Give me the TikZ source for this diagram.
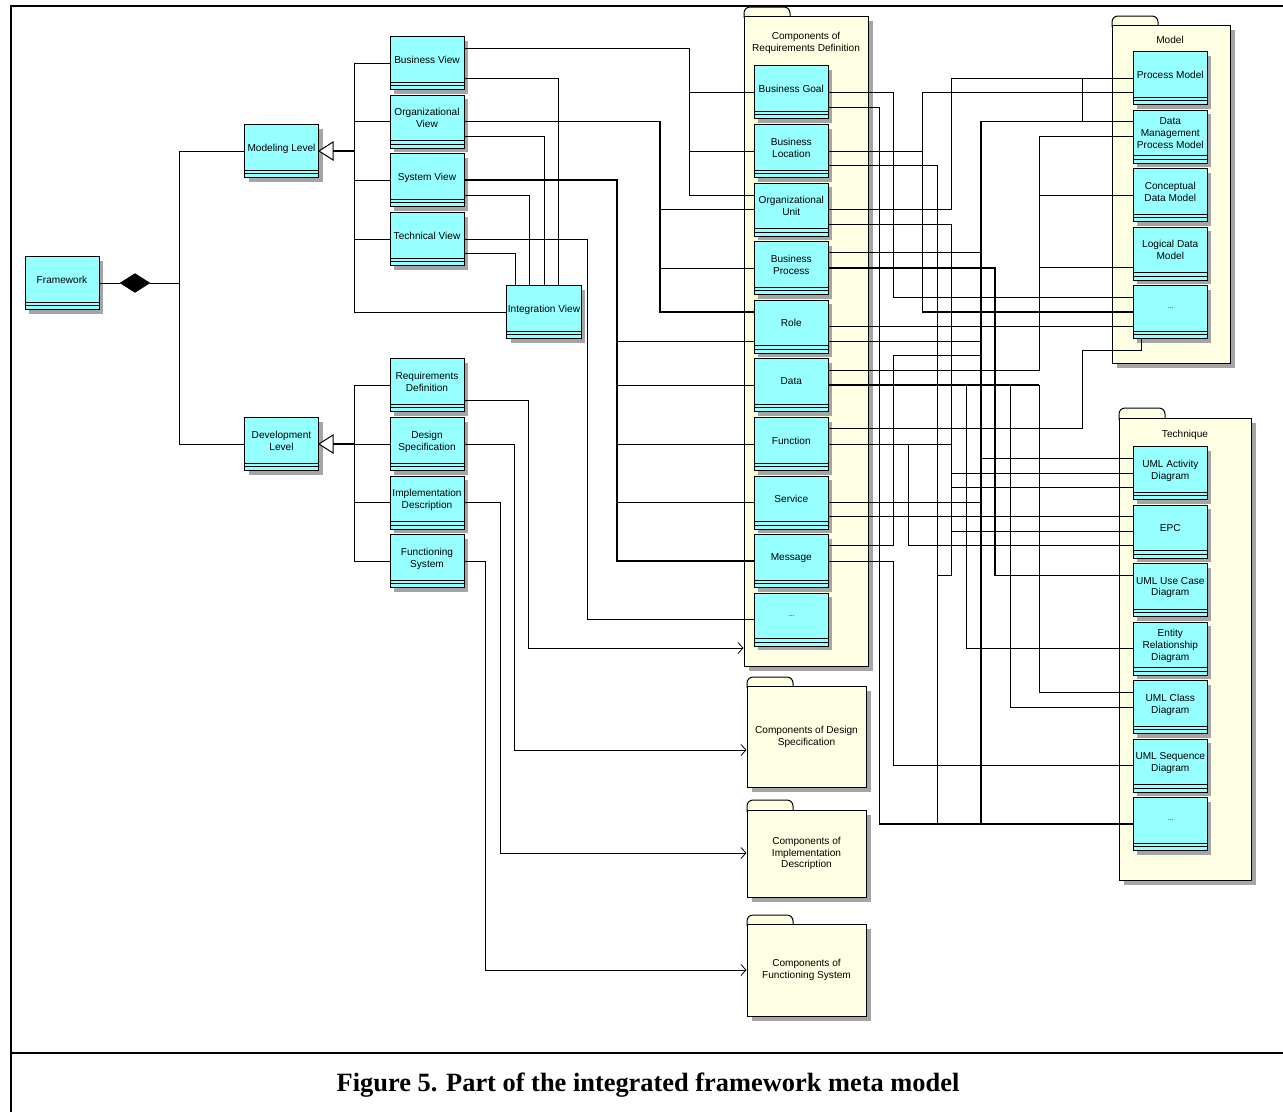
\documentclass[tikz,border=0pt]{standalone}
\usepackage{fontspec}
\setmainfont{Liberation Sans}
\newfontfamily\capfont{Liberation Serif}
\usetikzlibrary{shapes.geometric,shadows,arrows.meta}
\definecolor{boxcyan}{RGB}{150,255,255}
\definecolor{pkgfill}{RGB}{255,255,228}
\definecolor{shadowgray}{RGB}{165,165,165}
\tikzset{
  boxfont/.style={font=\fontsize{10.1}{11.8}\selectfont},
  cls/.style={draw=black, line width=1pt, fill=boxcyan, minimum width=74pt, minimum height=53pt,
    inner sep=1pt, align=center, boxfont, text depth=7pt,
    drop shadow={shadow xshift=4pt, shadow yshift=-4pt, fill=shadowgray, opacity=1},
    path picture={\draw[line width=0.8pt]
      ([yshift=7.6pt]path picture bounding box.south west) -- ([yshift=7.6pt]path picture bounding box.south east)
      ([yshift=4pt]path picture bounding box.south west) -- ([yshift=4pt]path picture bounding box.south east);}},
  pkg/.style={draw=black, line width=1pt, fill=pkgfill, inner sep=1pt, align=center, boxfont,
    drop shadow={shadow xshift=5pt, shadow yshift=-5pt, fill=shadowgray, opacity=1}},
  pkgtab/.style={draw=black, line width=1pt, fill=pkgfill},
  title/.style={boxfont, align=center, inner sep=0pt},
  conn/.style={line width=0.8pt},
  heavy/.style={line width=1.2pt},
  dep/.style={line width=0.8pt, -{Straight Barb[length=5pt,width=11pt]}},
  frame/.style={line width=2pt},
  captext/.style={font=\capfont\bfseries\fontsize{26.4}{30}\selectfont},
}
\begin{document}
\begin{tikzpicture}[x=1pt,y=-1pt]
\useasboundingbox (0,0) rectangle (1283,1112);
% frame
\draw[frame] (10.5,1112) -- (10.5,6) -- (1283,6);
\draw[frame] (10.5,1053) -- (1283,1053);
\node[captext] (cap) at (648,1085) {Figure 5. Part of the integrated framework meta model};

% packages
\draw[pkgtab] (744,18) [rounded corners=6pt] -- (744,7) -- (790,7) -- (790,18);
\node[pkg, minimum width=124pt, minimum height=650pt] (reqpkg) at (806,341) {};
\node[title] (reqt) at (806,43) {Components of\\Requirements Definition};

\draw[pkgtab] (1112,27) [rounded corners=6pt] -- (1112,16) -- (1158,16) -- (1158,27);
\node[pkg, minimum width=118pt, minimum height=338pt] (modelpkg) at (1171,194) {};
\node[title] (mt) at (1170,40) {Model};

\draw[pkgtab] (1119,420) [rounded corners=6pt] -- (1119,408) -- (1165,408) -- (1165,420);
\node[pkg, minimum width=132pt, minimum height=462pt] (techpkg) at (1185,649) {};
\node[title] (tt) at (1185,435) {Technique};

\draw[pkgtab] (747,688) [rounded corners=6pt] -- (747,677) -- (793,677) -- (793,688);
\node[pkg, minimum width=119pt, minimum height=101pt] (dspkg) at (806.5,736.5) {Components of Design\\Specification};
\draw[pkgtab] (747,812) [rounded corners=6pt] -- (747,800) -- (793,800) -- (793,812);
\node[pkg, minimum width=119pt, minimum height=87pt] (idpkg) at (806.5,853.5) {Components of\\Implementation\\Description};
\draw[pkgtab] (747,926) [rounded corners=6pt] -- (747,915) -- (793,915) -- (793,926);
\node[pkg, minimum width=119pt, minimum height=92pt] (fspkg) at (806.5,970) {Components of\\Functioning System};

% left boxes
\node[cls] (fw) at (62,283) {Framework};
\node[cls] (ml) at (281.5,151) {Modeling Level};
\node[cls] (dl) at (281.5,444) {Development\\Level};
\node[cls] (bv) at (427,63) {Business View};
\node[cls] (ov) at (427,121.7) {Organizational\\View};
\node[cls] (sv) at (427,180) {System View};
\node[cls] (tv) at (427,239) {Technical View};
\node[cls] (iv) at (544,312) {Integration View};
\node[cls] (rd) at (427,385) {Requirements\\Definition};
\node[cls] (ds) at (427,444) {Design\\Specification};
\node[cls] (id) at (427,502.5) {Implementation\\Description};
\node[cls] (fs) at (427,561) {Functioning\\System};

% requirements components
\node[cls] (bg) at (791.3,92) {Business Goal};
\node[cls] (bl) at (791.3,151) {Business\\Location};
\node[cls] (ou) at (791.3,209.5) {Organizational\\Unit};
\node[cls] (bp) at (791.3,268) {Business\\Process};
\node[cls] (ro) at (791.3,326.5) {Role};
\node[cls] (da) at (791.3,385) {Data};
\node[cls] (fu) at (791.3,444) {Function};
\node[cls] (se) at (791.3,502.5) {Service};
\node[cls] (me) at (791.3,561) {Message};
\node[cls] (rdots) at (791.3,619.5) {\scriptsize ...};

% model
\node[cls] (pm) at (1170.3,78) {Process Model};
\node[cls] (dmpm) at (1170.3,136.5) {Data\\Management\\Process Model};
\node[cls] (cdm) at (1170.3,195) {Conceptual\\Data Model};
\node[cls] (ldm) at (1170.3,253.5) {Logical Data\\Model};
\node[cls] (mdots) at (1170.3,312) {\scriptsize ...};

% technique
\node[cls] (uad) at (1170.3,473) {UML Activity\\Diagram};
\node[cls] (epc) at (1170.3,531.5) {EPC};
\node[cls] (uucd) at (1170.3,590) {UML Use Case\\Diagram};
\node[cls] (erd) at (1170.3,648.5) {Entity\\Relationship\\Diagram};
\node[cls] (ucd) at (1170.3,707) {UML Class\\Diagram};
\node[cls] (usd) at (1170.3,765.5) {UML Sequence\\Diagram};
\node[cls] (tdots) at (1170.3,824) {\scriptsize ...};

% composition and generalizations
\node[diamond, draw=black, fill=black, minimum width=30pt, minimum height=19pt, inner sep=0pt] (dia) at (135,283) {};
\draw[conn] (fw.east) -- (dia.west);
\draw[conn] (dia.east) -- (179,283);
\draw[conn] (ml.west) -| (179,444) -- (dl.west);

\draw[line width=1pt, fill=white] (ml.east) -- ++(14,-9) -- ++(0,18) -- cycle;
\coordinate (mlb) at ([xshift=14pt]ml.east);
\draw[line width=1.8pt] (mlb) -- (354,151);
\draw[conn] (bv.west) -| (354,312) -- (iv.west);
\draw[conn] (ov.west) -- (ov.west -| 354,0);
\draw[conn] (sv.west) -- (sv.west -| 354,0);
\draw[conn] (tv.west) -- (tv.west -| 354,0);

\draw[line width=1pt, fill=white] (dl.east) -- ++(14,-9) -- ++(0,18) -- cycle;
\coordinate (dlb) at ([xshift=14pt]dl.east);
\draw[line width=1.8pt] (dlb) -- (354,444);
\draw[conn] (rd.west) -| (354,561) -- (fs.west);
\draw[conn] (ds.west) -- (ds.west -| 354,0);
\draw[conn] (id.west) -- (id.west -| 354,0);

% views to integration view
\draw[conn] (bv.east |- 0,78) -| (iv.north -| 558,0);
\draw[conn] (ov.east |- 0,136.7) -| (iv.north -| 544,0);
\draw[conn] (sv.east |- 0,195) -| (iv.north -| 529,0);
\draw[conn] (tv.east |- 0,253.5) -| (iv.north -| 515,0);

% views to requirements components
\draw[conn] (bv.east |- 0,48) -| (689,195) -- (ou.west |- 0,195);
\draw[conn] (689,92) -- (bg.west);
\draw[conn] (689,151) -- (bl.west);
\draw[heavy] (ov.east) -| (660,312) -- (ro.west |- 0,312);
\draw[conn] (660,209.5) -- (ou.west);
\draw[conn] (660,268) -- (bp.west);
\draw[heavy] (sv.east) -| (617,561) -- (me.west);
\draw[conn] (617,341) -- (ro.west |- 0,341);
\draw[conn] (617,385) -- (da.west);
\draw[conn] (617,444) -- (fu.west);
\draw[conn] (617,502.5) -- (se.west);
\draw[conn] (tv.east) -| (587,619.5) -- (rdots.west);

% development level to component packages
\draw[dep] (rd.east |- 0,400) -| (528.6,648) -- (reqpkg.west |- 0,648);
\draw[dep] (ds.east) -| (514.6,750) -- (dspkg.west |- 0,750);
\draw[dep] (id.east) -| (500,853) -- (idpkg.west |- 0,853);
\draw[dep] (fs.east) -| (485.7,970) -- (fspkg.west |- 0,970);

% requirements components to models and techniques
\draw[conn] (bg.east) -| (893,297) -- (mdots.west |- 0,297);
\draw[conn] (bg.east |- 0,107) -| (879,824) -- (tdots.west);
\draw[conn] (bl.east) -- (922.7,151);
\draw[heavy] (pm.west |- 0,92.3) -| (922.7,312) -- (mdots.west);
\draw[conn] (bl.east |- 0,165.7) -| (937,824);
\draw[conn] (ou.east) -| (951.7,78) -- (pm.west);
\draw[conn] (ou.east |- 0,224) -| (951.7,575.3) -- (937,575.3);
\draw[conn] (951.7,473) -- (uad.west);
\draw[conn] (951.7,487.3) -- (uad.west |- 0,487.3);
\draw[conn] (951.7,531.5) -- (epc.west);
\draw[conn] (1082.7,78) -- (1082.7,121.7);
\draw[heavy] (dmpm.west |- 0,121.7) -| (981,824);
\draw[conn] (bp.east |- 0,252.7) -- (981,252.7);
\draw[heavy] (bp.east) -| (995,575.3) -- (uucd.west |- 0,575.3);
\draw[conn] (dmpm.west) -| (1039,370) -- (da.east |- 0,370);
\draw[conn] (1039,195) -- (cdm.west);
\draw[conn] (1039,267.7) -- (ldm.west |- 0,267.7);
\draw[conn] (ro.east) -- (mdots.west |- 0,326.5);
\draw[conn] (ro.east |- 0,341) -- (981,341);
\draw[heavy] (da.east) -- (1039,385);
\draw[conn] (966,385) |- (erd.west);
\draw[conn] (1010,385) |- (ucd.west);
\draw[conn] (1039,385) |- (ucd.west |- 0,692);
\draw[conn] (fu.east |- 0,428.7) -| (1082.7,350) -| (mdots.south -| 1141.7,0);
\draw[conn] (fu.east) -- (951.7,444);
\draw[conn] (908,444) |- (epc.west |- 0,545.7);
\draw[conn] (981,458.3) -- (uad.west |- 0,458.3);
\draw[conn] (se.east) -- (981,502.5);
\draw[conn] (se.east |- 0,516.7) -- (epc.west |- 0,516.7);
\draw[conn] (me.east |- 0,545.7) -| (893,355.7) -- (981,355.7);
\draw[conn] (me.east) -| (893,765.5) -- (usd.west);
\draw[heavy] (879,824) -- (tdots.west);
\end{tikzpicture}
\end{document}
